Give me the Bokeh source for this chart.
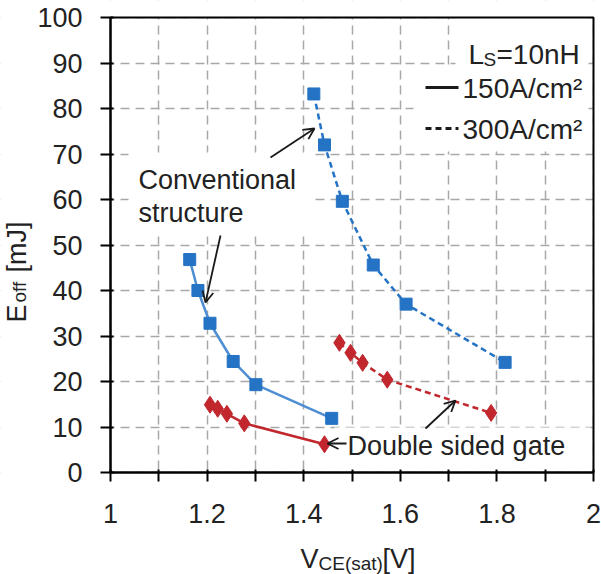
import math
from bokeh.plotting import figure
from bokeh.models import FixedTicker, Label, Arrow, OpenHead, Range1d
from bokeh.embed import file_html
from bokeh.resources import INLINE

# ---- data ----
conv150_x = [1.164, 1.181, 1.206, 1.254, 1.301, 1.458]
conv150_y = [46.8, 40.0, 32.8, 24.4, 19.3, 11.9]
conv300_x = [1.421, 1.443, 1.480, 1.544, 1.612, 1.817]
conv300_y = [83.2, 72.0, 59.6, 45.6, 37.0, 24.2]
dsg150_x = [1.206, 1.222, 1.241, 1.277, 1.443]
dsg150_y = [14.9, 14.0, 12.9, 10.8, 6.2]
dsg300_x = [1.474, 1.497, 1.522, 1.573, 1.788]
dsg300_y = [28.5, 26.3, 24.1, 20.4, 13.1]

x_ticks = [1.0, 1.2, 1.4, 1.6, 1.8, 2.0]
x_tick_labels = ["1", "1.2", "1.4", "1.6", "1.8", "2"]
x_minor = [1.1, 1.3, 1.5, 1.7, 1.9]
y_ticks = [0, 10, 20, 30, 40, 50, 60, 70, 80, 90, 100]
X_MIN, X_MAX, Y_MIN, Y_MAX = 1.0, 2.0, 0.0, 100.0

FONT = "Liberation Sans"
TXT = "#222222"
BLUE_M = "#2573C4"
BLUE_L = "#4E8ED3"
RED = "#C1272D"

# page geometry (pixels); the plot box sits at L..R, T..B
W, H = 601, 574
L, R, T, B = 110, 593, 17, 472


def X(px):
    return X_MIN + (X_MAX - X_MIN) * (px - L) / (R - L)


def Y(py):
    return Y_MIN + (Y_MAX - Y_MIN) * (B - py) / (B - T)


# the frame fills the whole page; axes are pinned to the plot box
p = figure(width=W, height=H, x_range=Range1d(X(0), X(W)), y_range=Range1d(Y(H), Y(0)),
           output_backend="svg", toolbar_location=None, title=None, min_border=0)
p.background_fill_color = "white"
p.border_fill_color = "white"
p.outline_line_color = None

for ax in (p.xaxis, p.yaxis):
    ax.axis_line_color = "black"
    ax.axis_line_width = 2
    ax.major_tick_line_color = "black"
    ax.major_tick_line_width = 2
    ax.minor_tick_line_color = "black"
    ax.minor_tick_line_width = 2
    ax.major_label_text_font = FONT
    ax.major_label_text_font_size = "27px"
    ax.major_label_text_color = TXT

p.xaxis.fixed_location = Y_MIN
p.xaxis.bounds = (X_MIN, X_MAX)
p.xaxis.ticker = FixedTicker(ticks=x_ticks, minor_ticks=x_minor)
p.xaxis.major_label_overrides = {t: s for t, s in zip(x_ticks, x_tick_labels)}
p.xaxis.major_tick_out = 9
p.xaxis.major_tick_in = 3
p.xaxis.minor_tick_out = 9
p.xaxis.minor_tick_in = 3
p.xaxis.major_label_standoff = 22

p.yaxis.fixed_location = X_MIN
p.yaxis.bounds = (Y_MIN, Y_MAX)
p.yaxis.ticker = FixedTicker(ticks=y_ticks, minor_ticks=[])
p.yaxis.major_tick_out = 10
p.yaxis.major_tick_in = 3
p.yaxis.major_label_standoff = 18

p.xgrid.ticker = FixedTicker(ticks=sorted(x_ticks + x_minor))
p.ygrid.ticker = FixedTicker(ticks=y_ticks)
for g in (p.xgrid, p.ygrid):
    g.grid_line_color = "#A8A8A8"
    g.grid_line_width = 1.5
    g.grid_line_dash = "9 6"

# white cover outside the plot box (grid lines span the whole frame)
p.quad(left=[X(0), X_MAX, X(0), X(0)],
       right=[X_MIN, X(W), X(W), X(W)],
       top=[Y(0), Y(0), Y(0), Y_MIN],
       bottom=[Y(H), Y(H), Y_MAX, Y(H)],
       fill_color="white", line_color=None)

# white patches behind texts inside the box (cover grid)
p.quad(left=[X(455), X(413), X(128), X(334)],
       right=[X(588), X(588), X(313), X(590)],
       top=[Y_MAX, Y(66), Y(152), Y(427)],
       bottom=[Y(66), Y(151), Y(236), Y(470)],
       fill_color="white", line_color=None)

# plot box border
p.quad(left=[X_MIN], right=[X_MAX], bottom=[Y_MIN], top=[Y_MAX],
       fill_color=None, line_color="black", line_width=2)

# series
p.line(conv300_x, conv300_y, line_color=BLUE_M, line_width=2.5, line_dash="6 4")
p.line(dsg300_x, dsg300_y, line_color=RED, line_width=2.5, line_dash="6 4")
p.line(conv150_x, conv150_y, line_color=BLUE_L, line_width=2.5)
p.line(dsg150_x, dsg150_y, line_color=RED, line_width=2.5)

p.scatter(conv150_x, conv150_y, marker="square", size=12, fill_color=BLUE_M, line_color=BLUE_M)
p.scatter(conv300_x, conv300_y, marker="square", size=12, fill_color=BLUE_M, line_color=BLUE_M)
p.scatter(dsg150_x, dsg150_y, marker="diamond", size=17, fill_color=RED, line_color=RED)
p.scatter(dsg300_x, dsg300_y, marker="diamond", size=17, fill_color=RED, line_color=RED)


def lab(text, px, py, size="27px", align="left", baseline="middle", angle=0.0):
    p.add_layout(Label(x=X(px), y=Y(py), text=text, text_font=FONT,
                       text_font_size=size, text_color=TXT, text_align=align,
                       text_baseline=baseline, angle=angle))


lab("Conventional", 138, 179)
lab("structure", 138, 212)
lab("Double sided gate", 347, 445)

arrows = [
    (X(220), Y(235), X(205), Y(302)),
    (X(270), Y(157), X(314), Y(128)),
    (X(346), Y(443), X(327), Y(443)),
    (X(425), Y(428), X(455), Y(400)),
]
for xs, ys, xe, ye in arrows:
    p.add_layout(Arrow(x_start=xs, y_start=ys, x_end=xe, y_end=ye,
                       line_color="#1a1a1a", line_width=1.8,
                       end=OpenHead(size=11, line_color="#1a1a1a", line_width=1.8)))

# legend box content
lab("L", 468, 54, size="28px", baseline="alphabetic")
lab("S", 483, 59, size="19px", baseline="alphabetic")
lab("=10nH", 496, 54, size="28px", baseline="alphabetic")
p.segment(x0=[X(425)], y0=[Y(87)], x1=[X(458)], y1=[Y(87)], line_color="#1a1a1a", line_width=3)
p.segment(x0=[X(425)], y0=[Y(128)], x1=[X(458)], y1=[Y(128)], line_color="#1a1a1a",
          line_width=3, line_dash="6 4")
lab("150A/cm²", 462, 88, size="28px")
lab("300A/cm²", 462, 129, size="28px")

# axis titles with subscripts
lab("V", 300, 558, baseline="alphabetic")
lab("CE(sat)", 318, 563, size="19px", baseline="alphabetic")
lab("[V]", 382, 558, baseline="alphabetic")

ang = math.pi / 2
lab("E", 16, 322, baseline="alphabetic", angle=ang)
lab("off", 19, 302, size="19px", baseline="alphabetic", angle=ang)
lab("[mJ]", 16, 272, baseline="alphabetic", angle=ang)

open("out.html", "w").write(file_html(p, INLINE))
